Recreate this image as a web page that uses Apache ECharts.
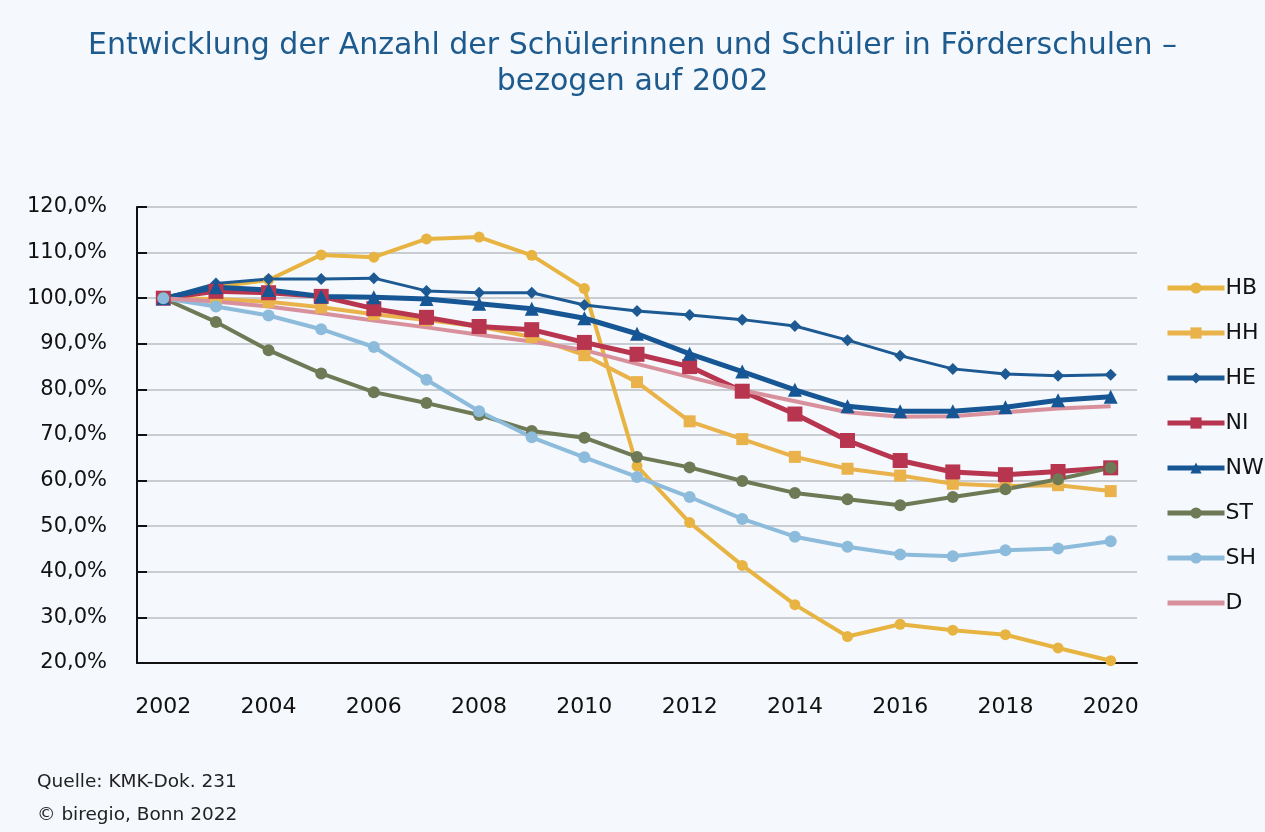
<!DOCTYPE html>
<html>
<head>
<meta charset="utf-8">
<script src="https://cdn.jsdelivr.net/npm/echarts@6/dist/echarts.min.js"></script>
<style>
html,body{margin:0;padding:0;background:#f5f8fc;}
#c{width:1265px;height:832px;}
</style>
</head>
<body>
<div id="c"></div>
<script>
const years = ['2002','2003','2004','2005','2006','2007','2008','2009','2010','2011','2012','2013','2014','2015','2016','2017','2018','2019','2020'];
const HB = [100,102.5,104,109.5,109,113,113.4,109.4,102.1,63.2,50.8,41.4,32.8,25.8,28.5,27.2,26.2,23.3,20.5];
const HH = [100,99.8,99.2,98,96.5,95.2,93.8,91.5,87.5,81.6,73,69.1,65.2,62.6,61.1,59.3,58.8,59,57.7];
const HE = [100,103.2,104.2,104.2,104.4,101.6,101.2,101.2,98.5,97.2,96.3,95.3,93.9,90.8,87.4,84.5,83.4,83,83.2];
const NI = [100,101.5,101.2,100.4,97.7,95.8,93.8,93.1,90.3,87.7,85,79.6,74.6,68.8,64.4,61.9,61.3,62,62.8];
const NW = [100,102.4,101.8,100.4,100.2,99.8,98.8,97.7,95.6,92.2,87.8,83.9,79.9,76.3,75.2,75.2,76.1,77.6,78.4];
const ST = [100,94.8,88.6,83.5,79.4,77,74.4,70.9,69.4,65.2,62.9,59.9,57.3,55.9,54.6,56.4,58.1,60.3,62.8];
const SH = [100,98.2,96.2,93.2,89.3,82.1,75.2,69.5,65.1,60.8,56.4,51.6,47.7,45.5,43.8,43.4,44.7,45.1,46.7];
const D  = [100,99.3,98.2,96.7,95.1,93.6,92,90.5,88.6,85.6,82.7,79.8,77.4,75,74,74.1,75,75.8,76.3];
const yTicks = [20,30,40,50,60,70,80,90,100,110,120];

const seriesDefs = [
  {name:'HB', data:HB, color:'#E8B441', symbol:'circle', size:11, width:4},
  {name:'HH', data:HH, color:'#EAB24A', symbol:'rect', size:12, width:4},
  {name:'HE', data:HE, color:'#1D5A93', symbol:'diamond', size:12, width:3},
  {name:'NI', data:NI, color:'#B8354F', symbol:'rect', size:15, width:5},
  {name:'NW', data:NW, color:'#165694', symbol:'triangle', size:14, width:5},
  {name:'ST', data:ST, color:'#6E7955', symbol:'circle', size:12, width:4},
  {name:'SH', data:SH, color:'#8DBBDB', symbol:'circle', size:12, width:4},
  {name:'D',  data:D,  color:'#D8919C', symbol:'none', size:0, width:4}
];

const chart = echarts.init(document.getElementById('c'));
const fontFam = 'DejaVu Sans, sans-serif';
chart.setOption({
  backgroundColor:'#f5f8fc',
  animation:false,
  title:{
    text:'Entwicklung der Anzahl der Schülerinnen und Schüler in Förderschulen –\nbezogen auf 2002',
    left:'center', top:23,
    textStyle:{color:'#1D5A8E', fontSize:30, fontWeight:'normal', lineHeight:36, fontFamily:fontFam}
  },
  graphic:[
    {type:'text', left:37, top:773, style:{text:'Quelle: KMK-Dok. 231', fontSize:18.5, fill:'#222', fontFamily:fontFam}},
    {type:'text', left:37, top:806, style:{text:'© biregio, Bonn 2022', fontSize:18.5, fill:'#222', fontFamily:fontFam}}
  ],
  legend:{
    orient:'vertical', left:1160, top:272,
    itemWidth:57, itemHeight:14, itemGap:23,
    lineStyle:{width:5},
    textStyle:{fontSize:22, color:'#111', fontFamily:fontFam, padding:[0,0,0,-4]},
    data:seriesDefs.map(s=> s.symbol==='none' ? {name:s.name, itemStyle:{opacity:0}} : s.name)
  },
  grid:{left:137, right:128, top:207, bottom:169, containLabel:false},
  xAxis:{
    type:'category', data:years, boundaryGap:true,
    axisLine:{lineStyle:{color:'#111', width:2}},
    axisTick:{inside:true, length:10, interval:0, lineStyle:{color:'#111', width:2}},
    axisLabel:{interval:1, fontSize:22, color:'#111', margin:33, fontFamily:fontFam},
    splitLine:{show:false}
  },
  yAxis:{
    type:'value', min:yTicks[0], max:yTicks[yTicks.length-1], interval:10,
    axisLine:{show:true, lineStyle:{color:'#111', width:2}},
    axisTick:{show:true, inside:true, length:10, lineStyle:{color:'#111', width:2}},
    axisLabel:{fontSize:21, color:'#111', margin:30, fontFamily:fontFam,
      formatter:v=>v.toFixed(1).replace('.',',')+'%'},
    splitLine:{lineStyle:{color:'#c9ccd0', width:2}}
  },
  series:seriesDefs.map(s=>({
    name:s.name, type:'line', data:s.data,
    symbol:s.symbol, symbolSize:s.size, showSymbol:s.symbol!=='none',
    itemStyle:{color:s.color},
    lineStyle:{color:s.color, width:s.width},
    emphasis:{disabled:true}
  }))
});
</script>
</body>
</html>
